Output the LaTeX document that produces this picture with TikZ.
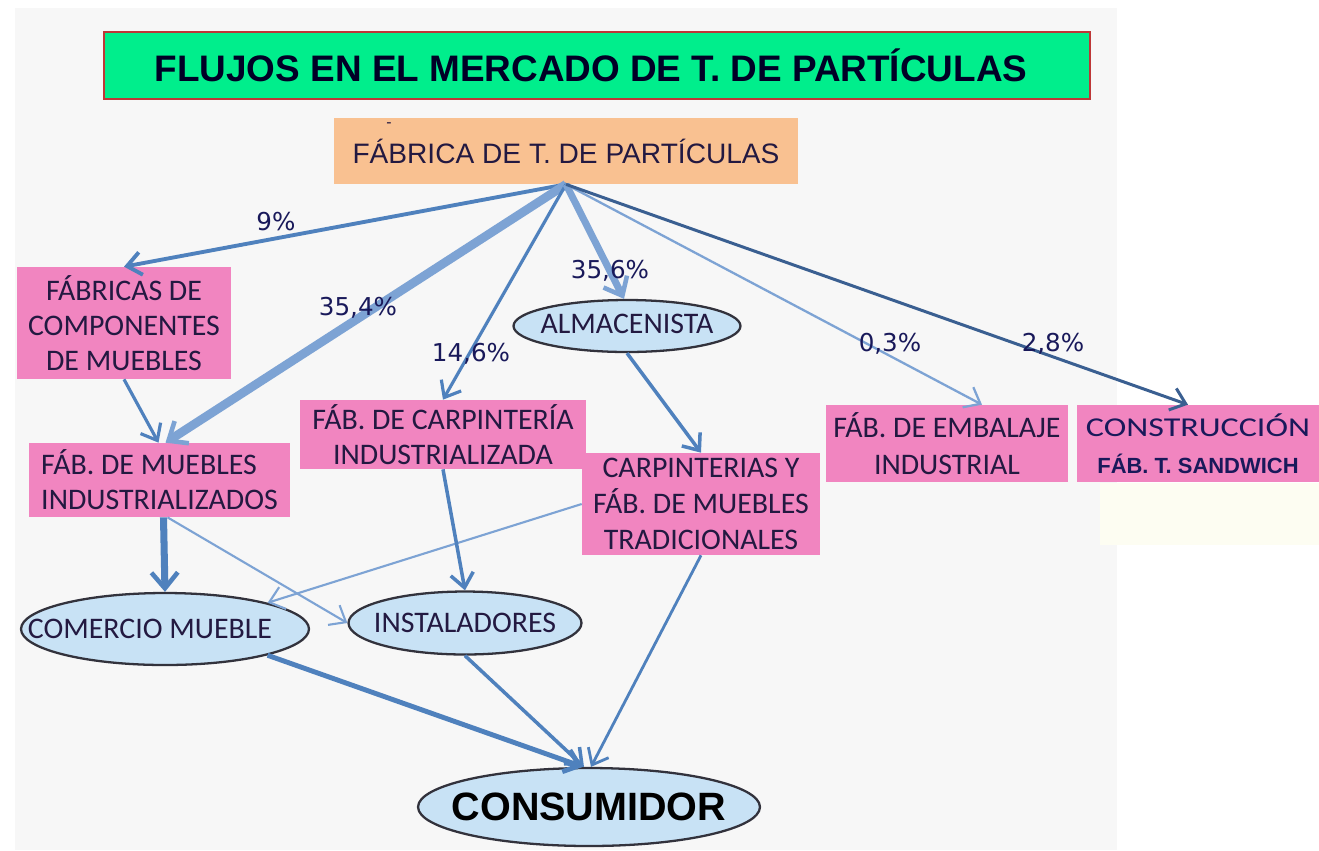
\documentclass[tikz,border=0pt]{standalone}
\usepackage{fontspec}
\setmainfont{Liberation Sans}
\newfontfamily\calfont{Carlito}
\newfontfamily\calwide[FakeStretch=1.25]{Carlito}
\newfontfamily\pctfont{DejaVu Sans}
\usetikzlibrary{shapes.geometric,arrows.meta}
\definecolor{bggray}{RGB}{247,247,247}
\definecolor{cream}{RGB}{253,253,242}
\definecolor{titlegreen}{RGB}{0,238,140}
\definecolor{titleborder}{RGB}{190,55,55}
\definecolor{fabor}{RGB}{249,193,145}
\definecolor{boxpink}{RGB}{241,133,192}
\definecolor{ellblue}{RGB}{200,226,245}
\definecolor{ellborder}{RGB}{50,50,60}
\definecolor{boxtext}{RGB}{35,25,65}
\definecolor{navy}{RGB}{25,25,90}
\definecolor{arrblue}{RGB}{79,129,189}
\definecolor{arrlight}{RGB}{125,163,212}
\definecolor{arrdark}{RGB}{58,95,145}
\begin{document}
\begin{tikzpicture}[x=0.02cm,y=-0.02cm,
  pinkbox/.style={rectangle, fill=boxpink, inner sep=0pt, text=boxtext,
    font=\calfont\fontsize{17}{20}\selectfont, align=center},
  ellbox/.style={ellipse, fill=ellblue, draw=ellborder, line width=1.3pt, inner sep=0pt,
    text=boxtext, font=\calfont\fontsize{17}{20}\selectfont},
  pct/.style={text=navy, font=\pctfont\fontsize{14}{16}\selectfont, inner sep=0pt},
  flow/.style={draw=arrblue, line width=1.8pt, -{Straight Barb[length=8pt,width=13pt]}},
  bigflow/.style={draw=arrblue, -{Straight Barb[length=9pt,width=15pt,line width=2.6pt]}},
]
\useasboundingbox (0,0) rectangle (1319,850);
\fill[white] (0,0) rectangle (1319,850);
\fill[bggray] (15,8) rectangle (1117,850);
\fill[cream] (1100,483) rectangle (1319,545);

% title
\node[rectangle, fill=titlegreen, draw=titleborder, line width=1.2pt, inner sep=0pt,
  minimum width=19.72cm, minimum height=1.34cm, text=black!85!blue,
  font=\bfseries\fontsize{21}{24}\selectfont] (title) at (597,65.5)
  {\makebox[0pt]{FLUJOS EN EL MERCADO DE T. DE PARTÍCULAS\hspace*{0.24cm}}};

% source
\node[rectangle, fill=fabor, inner sep=0pt, minimum width=9.28cm, minimum height=1.32cm,
  text=boxtext, font=\fontsize{16}{19}\selectfont] (fab) at (566,151)
  {FÁBRICA DE T. DE PARTÍCULAS};
\node[text=boxtext, font=\fontsize{9}{10}\selectfont, inner sep=0pt] (dashmark) at (389,125) {-};

% boxes
\node[pinkbox, minimum width=4.28cm, minimum height=2.24cm] (comp) at (124,323)
  {FÁBRICAS DE\\COMPONENTES\\DE MUEBLES};
\node[pinkbox, align=left, minimum width=5.22cm, minimum height=1.48cm] (mueb) at (159.5,480)
  {FÁB. DE MUEBLES\\INDUSTRIALIZADOS};
\node[pinkbox, minimum width=5.72cm, minimum height=1.38cm] (carpind) at (443,434.5)
  {FÁB. DE CARPINTERÍA\\INDUSTRIALIZADA};
\node[pinkbox, minimum width=4.76cm, minimum height=2.04cm, font=\calfont\fontsize{17}{20.5}\selectfont] (carptrad) at (701,504)
  {CARPINTERIAS Y\\FÁB. DE MUEBLES\\TRADICIONALES};
\node[pinkbox, minimum width=4.84cm, minimum height=1.54cm, font=\calfont\fontsize{17}{21}\selectfont] (emb) at (947,443.5)
  {FÁB. DE EMBALAJE\\INDUSTRIAL};
\node[pinkbox, minimum width=4.84cm, minimum height=1.54cm, text=navy] (cons) at (1198,443.5)
  {{\calwide\fontsize{15.5}{18}\selectfont CONSTRUCCIÓN}\\[1pt]{\normalfont\bfseries\fontsize{12.5}{14}\selectfont FÁB. T. SANDWICH}};

% ellipses
\node[ellbox, minimum width=4.54cm, minimum height=1.04cm] (alm) at (627,326)
  {\makebox[0pt]{\raisebox{3pt}{ALMACENISTA}}};
\node[ellbox, minimum width=5.76cm, minimum height=1.44cm] (com) at (165,629)
  {\makebox[0pt]{COMERCIO MUEBLE\hspace*{0.6cm}}};
\node[ellbox, minimum width=4.66cm, minimum height=1.26cm] (inst) at (465,623)
  {\makebox[0pt]{INSTALADORES}};
\node[ellbox, minimum width=6.84cm, minimum height=1.56cm, text=black,
  font=\bfseries\fontsize{22.5}{26}\selectfont] (consum) at (589,807)
  {\makebox[0pt]{CONSUMIDOR}};

% flows from the factory
\draw[flow, line width=2.2pt] (fab.south) -- (comp.north);
\draw[bigflow, draw=arrlight, line width=5pt] (fab.south) -- ([xshift=0.12cm]mueb.north);
\draw[flow, line width=1.8pt] (fab.south) -- (carpind.north);
\draw[bigflow, draw=arrlight, line width=4pt] (fab.south) -- ([xshift=-0.06cm]alm.north);
\draw[flow, draw=arrlight, line width=1.3pt] (fab.south) -- ([xshift=0.7cm]emb.north);
\draw[flow, draw=arrdark, line width=1.7pt] (fab.south) -- ([xshift=-0.2cm]cons.north);

% percentages
\node[pct] (p9) at (276,222) {9\%};
\node[pct] (p354) at (358,308) {35,4\%};
\node[pct] (p146) at (471,354) {14,6\%};
\node[pct] (p356) at (610,271) {35,6\%};
\node[pct] (p03) at (890,344) {0,3\%};
\node[pct] (p28) at (1053,344) {2,8\%};

% other flows
\draw[flow, line width=1.8pt] (comp.south) -- ([xshift=-0.02cm]mueb.north);
\draw[flow, line width=2pt] (alm.south) -- (carptrad.north);
\draw[bigflow, line width=4pt] ([xshift=0.08cm]mueb.south) -- (com.north);
\draw[flow, draw=arrlight, line width=1.2pt] ([xshift=0.16cm]mueb.south) -- (inst.west);
\draw[flow, draw=arrlight, line width=1.2pt] (carptrad.west) -- (com.north east);
\draw[flow, line width=2pt] (carpind.south) -- (inst.north);
\draw[flow, line width=2.8pt] (com.south east) -- ([xshift=-0.12cm]consum.north);
\draw[flow, line width=2pt] (inst.south) -- ([xshift=-0.1cm]consum.north);
\draw[flow, line width=1.6pt] (carptrad.south) -- ([xshift=0.04cm]consum.north);
\end{tikzpicture}
\end{document}
